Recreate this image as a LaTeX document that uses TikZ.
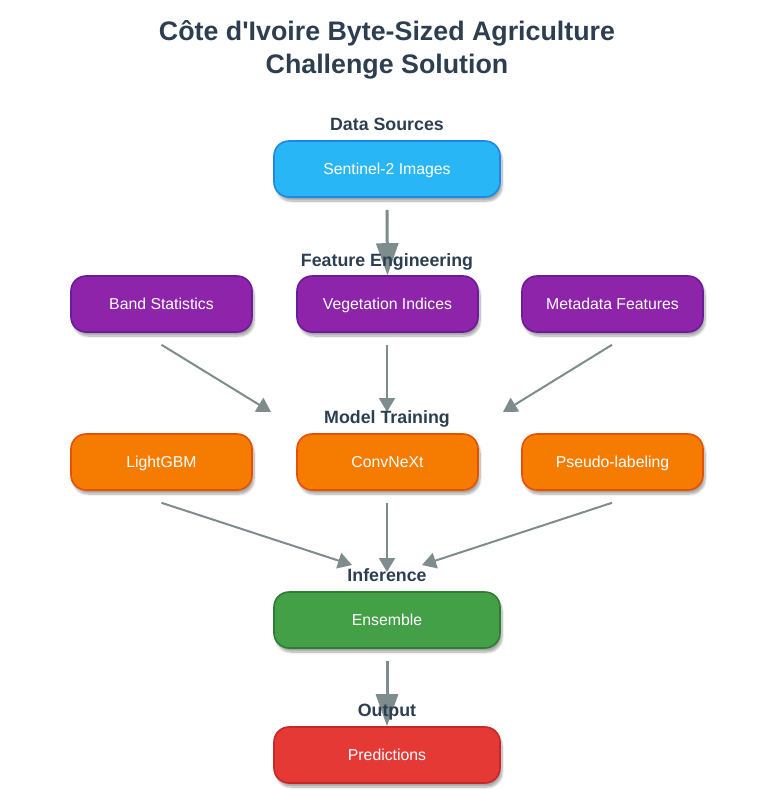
\documentclass[tikz,border=0pt]{standalone}
\usepackage{fontspec}
\setmainfont{Liberation Sans}
\usetikzlibrary{arrows.meta,shadows.blur,calc}
\definecolor{ink}{HTML}{2C3E50}
\definecolor{arrowc}{HTML}{7F8C8D}
\definecolor{bluef}{HTML}{29B6F6}\definecolor{blued}{HTML}{1E88E5}
\definecolor{purf}{HTML}{8E24AA}\definecolor{purd}{HTML}{6A1B9A}
\definecolor{oraf}{HTML}{F57C00}\definecolor{orad}{HTML}{E65100}
\definecolor{gref}{HTML}{43A047}\definecolor{gred}{HTML}{2E7D32}
\definecolor{redf}{HTML}{E53935}\definecolor{redd}{HTML}{C62828}
\pgfdeclarelayer{bg}
\pgfsetlayers{bg,main}
\tikzset{
  box/.style={rectangle, rounded corners=15pt, line width=1.6pt, text=white,
    font=\fontsize{15.8}{18}\selectfont, inner sep=0pt, text depth=0pt,
    blur shadow={shadow xshift=2pt, shadow yshift=-4pt, shadow blur steps=10, shadow blur extra rounding=3pt, shadow opacity=35}},
  wide/.style={box, minimum width=226pt, minimum height=56pt},
  narrow/.style={box, minimum width=181pt, minimum height=56pt},
  sect/.style={anchor=base, text=ink, font=\fontsize{17.8}{20}\selectfont\bfseries, inner sep=0pt},
  ttl/.style={anchor=base, text=ink, font=\fontsize{26.8}{30}\selectfont\bfseries, inner sep=0pt},
  thin/.style={draw=arrowc, line width=2pt, -{Triangle[length=14pt,width=16pt]}},
  thick/.style={draw=arrowc, line width=3pt, -{Triangle[length=32pt,width=22pt]}},
}
\begin{document}
\begin{tikzpicture}[x=1pt,y=1pt]
\useasboundingbox (0,0) rectangle (762,-790);
\node[ttl] (t1) at (387,-40) {Côte d\textquotesingle Ivoire Byte-Sized Agriculture};
\node[ttl] (t2) at (387,-73) {Challenge Solution};

\node[sect] (l1) at (387,-130) {Data Sources};
\node[sect] (l2) at (387,-266) {Feature Engineering};
\node[sect] (l3) at (387,-423) {Model Training};
\node[sect] (l4) at (387,-581) {Inference};
\node[sect] (l5) at (387,-716) {Output};

\node[wide, fill=bluef, draw=blued] (sent) at (387,-169) {Sentinel-2 Images};
\node[narrow, fill=purf, draw=purd] (band) at (161.5,-304) {Band Statistics};
\node[narrow, fill=purf, draw=purd] (veg) at (387.5,-304) {Vegetation Indices};
\node[narrow, fill=purf, draw=purd] (meta) at (612.5,-304) {Metadata Features};
\node[narrow, fill=oraf, draw=orad] (lgb) at (161.5,-462) {LightGBM};
\node[narrow, fill=oraf, draw=orad] (conv) at (387.5,-462) {ConvNeXt};
\node[narrow, fill=oraf, draw=orad] (pseudo) at (612.5,-462) {Pseudo-labeling};
\node[wide, fill=gref, draw=gred] (ens) at (387,-620) {Ensemble};
\node[wide, fill=redf, draw=redd] (pred) at (387,-755) {Predictions};

\coordinate (m1) at (271,-412);
\coordinate (m2) at (387,-412);
\coordinate (m3) at (503,-412);
\coordinate (e1) at (352,-565);
\coordinate (e2) at (387,-572);
\coordinate (e3) at (422,-565);

\begin{pgfonlayer}{bg}
\draw[thick] ([yshift=-12pt]sent.south) -- (veg.north);
\draw[thin] ([yshift=-12pt]band.south) -- (m1);
\draw[thin] ([yshift=-12pt,xshift=-0.5pt]veg.south) -- (m2);
\draw[thin] ([yshift=-12pt,xshift=-0.5pt]meta.south) -- (m3);
\draw[thin] ([yshift=-12pt]lgb.south) -- (e1);
\draw[thin] ([yshift=-12pt,xshift=-0.5pt]conv.south) -- (e2);
\draw[thin] ([yshift=-12pt,xshift=-0.5pt]pseudo.south) -- (e3);
\draw[thick] ([yshift=-12pt]ens.south) -- (pred.north);
\end{pgfonlayer}
\end{tikzpicture}
\end{document}
